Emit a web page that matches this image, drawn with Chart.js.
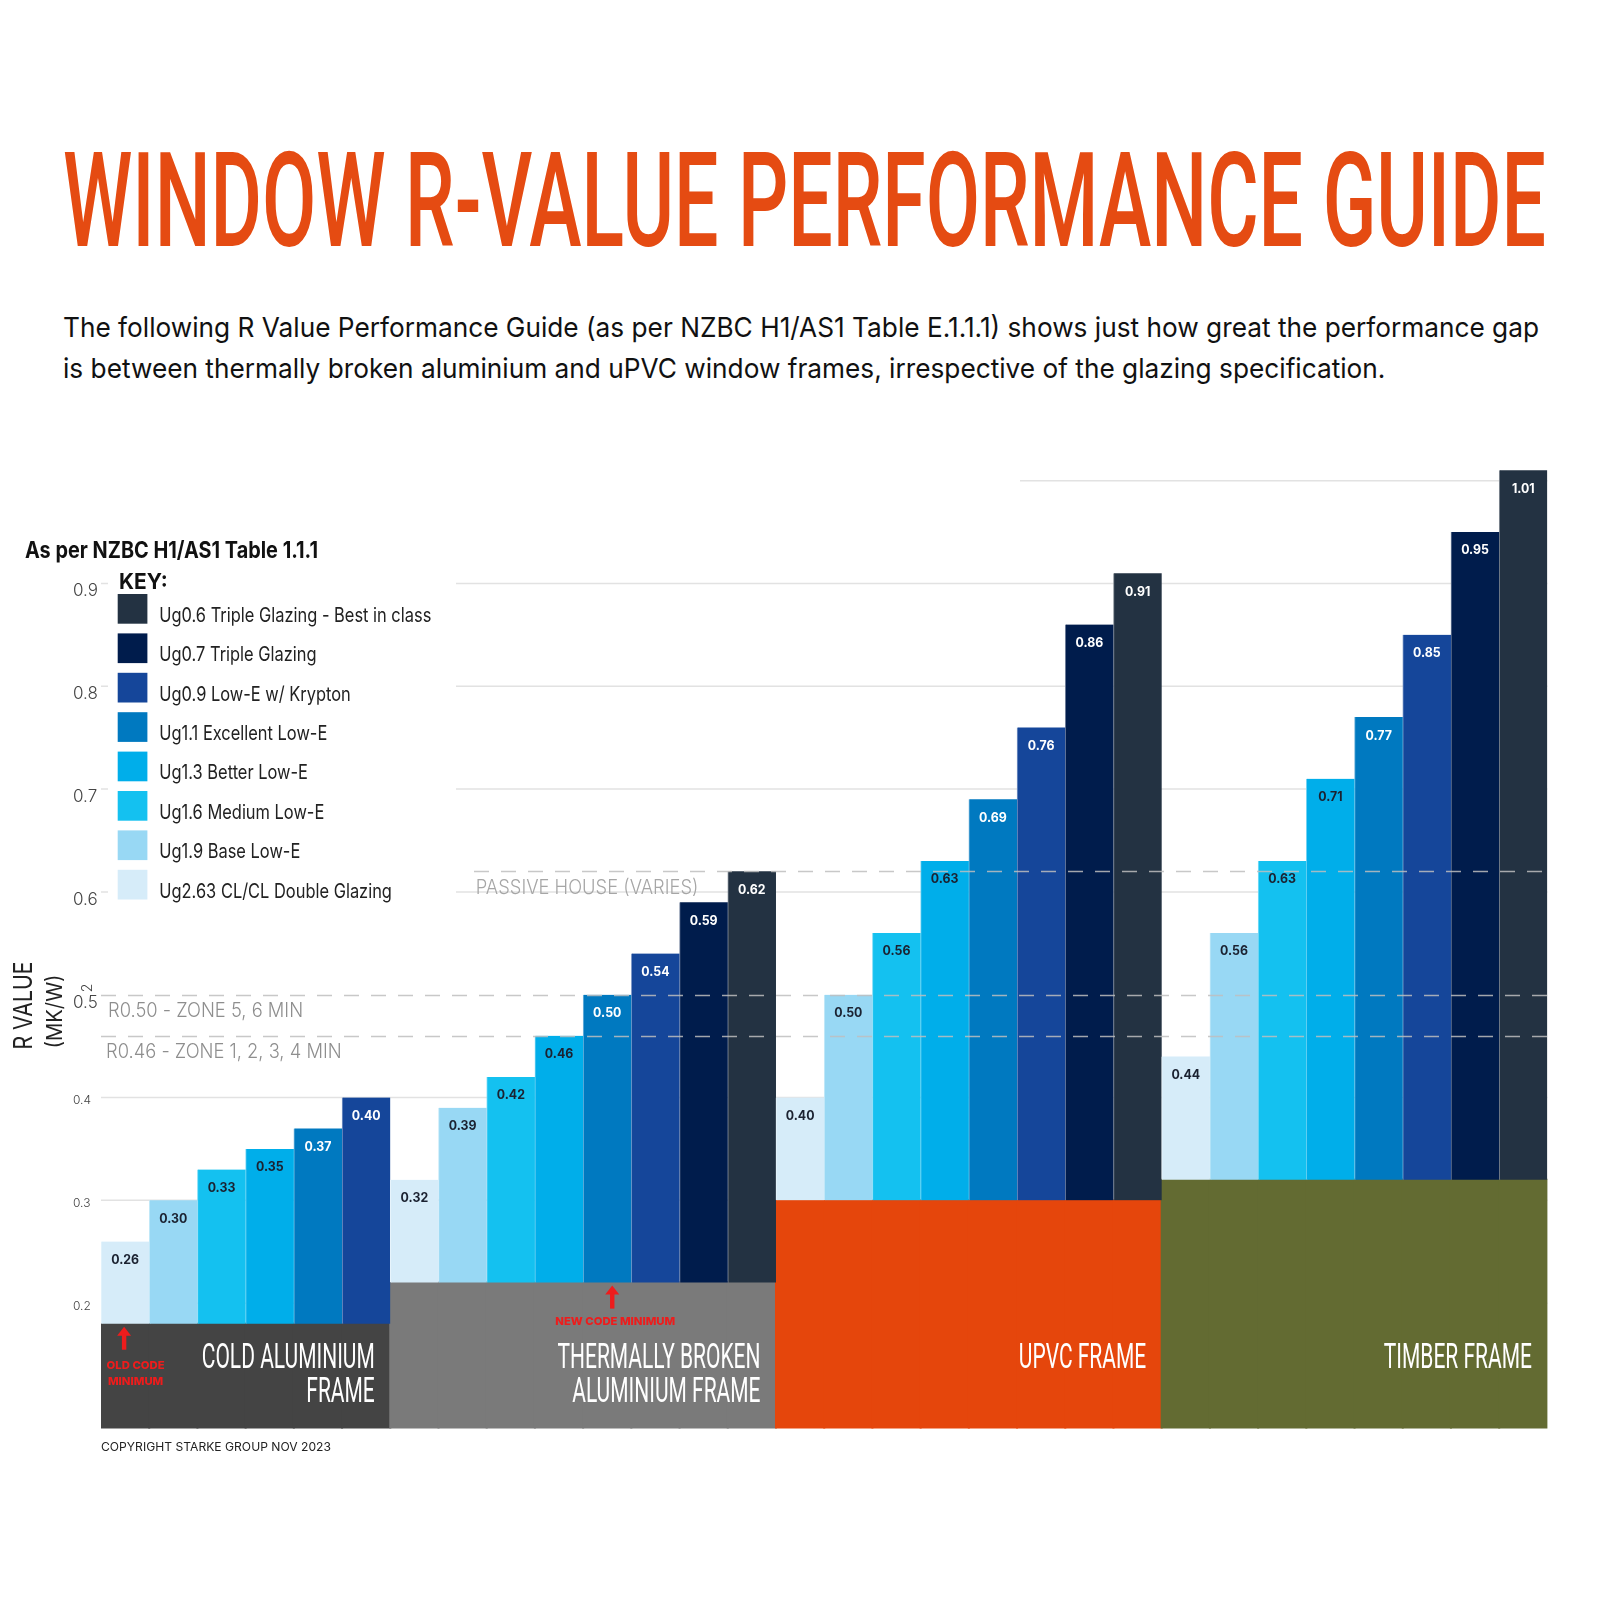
<!DOCTYPE html>
<html>
<head>
<meta charset="utf-8">
<script src="https://cdn.jsdelivr.net/npm/chart.js@4.4.0/dist/chart.umd.min.js"></script>
<style>
  html, body { margin: 0; padding: 0; background: #ffffff; }
  body { width: 1600px; height: 1600px; position: relative; overflow: hidden; }
  #chart { position: absolute; left: 0; top: 0; width: 1600px; height: 1600px; }
  .txt { position: absolute; white-space: nowrap; transform-origin: 0 0; display: inline-block; line-height: 1; }
  #title { font-family: Roboto, sans-serif; font-weight: 500; font-size: 131px; color: #e54b12; }
  .para { font-family: Inter, sans-serif; font-weight: 400; font-size: 27.5px; color: #111111; }
</style>
</head>
<body>
<div id="title" class="txt">WINDOW R-VALUE PERFORMANCE GUIDE</div>
<div id="p1" class="txt para">The following R Value Performance Guide (as per NZBC H1/AS1 Table E.1.1.1) shows just how great the performance gap</div>
<div id="p2" class="txt para">is between thermally broken aluminium and uPVC window frames, irrespective of the glazing specification.</div>
<canvas id="chart" width="1600" height="1600"></canvas>
<script>
// ---------------- DATA ----------------
const frameNames = ['COLD ALUMINIUM FRAME', 'THERMALLY BROKEN ALUMINIUM FRAME', 'UPVC FRAME', 'TIMBER FRAME'];
const frameLabelLines = [['COLD ALUMINIUM', 'FRAME'], ['THERMALLY BROKEN', 'ALUMINIUM FRAME'], ['UPVC FRAME'], ['TIMBER FRAME']];
const frameBase = [0.18, 0.22, 0.30, 0.32];
const glazingTypes = [
  'Ug2.63 CL/CL Double Glazing',
  'Ug1.9 Base Low-E',
  'Ug1.6 Medium Low-E',
  'Ug1.3 Better Low-E',
  'Ug1.1 Excellent Low-E',
  'Ug0.9 Low-E w/ Krypton',
  'Ug0.7 Triple Glazing',
  'Ug0.6 Triple Glazing - Best in class'
];
const coldAluminium   = [0.26, 0.30, 0.33, 0.35, 0.37, 0.40];
const thermallyBroken = [0.32, 0.39, 0.42, 0.46, 0.50, 0.54, 0.59, 0.62];
const upvcFrame       = [0.40, 0.50, 0.56, 0.63, 0.69, 0.76, 0.86, 0.91];
const timberFrame     = [0.44, 0.56, 0.63, 0.71, 0.77, 0.85, 0.95, 1.01];
const yTicks = [0.2, 0.3, 0.4, 0.5, 0.6, 0.7, 0.8, 0.9];
const refValues = [0.62, 0.50, 0.46];
const refLabels = ['PASSIVE HOUSE (VARIES)', 'R0.50 - ZONE 5, 6 MIN', 'R0.46 - ZONE 1, 2, 3, 4 MIN'];
const codeMinFrame = [0, 1];
const codeMinGlazing = [0, 4];
const codeMinLines = [['OLD CODE', 'MINIMUM'], ['NEW CODE MINIMUM']];

// ---------------- STYLE ----------------
const frameColors = ['#444444', '#7a7a7a', '#e5460c', '#636b32'];
const glazingColors = ['#d6ecf9', '#98d8f4', '#14c1f0', '#00aeea', '#0079c0', '#15469a', '#001c4c', '#233242'];
const Y_MIN = 0.078, Y_MAX = 1.03;

function lighten(hex, t) {
  const n = parseInt(hex.slice(1), 16);
  const r = (n >> 16) & 255, g = (n >> 8) & 255, b = n & 255;
  const m = c => Math.round(c + (255 - c) * t);
  return 'rgb(' + m(r) + ',' + m(g) + ',' + m(b) + ')';
}

function placeText(id, left, baseline, width, scaleOverride) {
  const el = document.getElementById(id);
  el.style.left = left + 'px';
  el.style.top = '0px';
  const mk = document.createElement('span');
  mk.style.cssText = 'display:inline-block;width:0;height:0;vertical-align:baseline;';
  el.appendChild(mk);
  const off = mk.getBoundingClientRect().top - el.getBoundingClientRect().top;
  el.style.top = (baseline - off) + 'px';
  const w = el.getBoundingClientRect().width;
  const s = scaleOverride || (width / w);
  el.style.transform = 'scaleX(' + s + ')';
  return s;
}

function fitScale(ctx, font, text, width) {
  ctx.font = font;
  return width / ctx.measureText(text).width;
}
function drawT(ctx, text, x, y, font, color, align, sx, baseline) {
  ctx.save();
  ctx.font = font;
  ctx.fillStyle = color;
  ctx.textAlign = align || 'left';
  ctx.textBaseline = baseline || 'alphabetic';
  ctx.translate(x, y);
  ctx.scale(sx || 1, 1);
  ctx.fillText(text, 0, 0);
  ctx.restore();
}

function init() {
  // HTML heading texts
  placeText('title', 63.3, 246, 1483);
  const ps = placeText('p1', 62.7, 336.7, 1476);
  placeText('p2', 62.7, 378.3, 0, ps);

  // Build slots (one category per bar)
  const frameSeries = [coldAluminium, thermallyBroken, upvcFrame, timberFrame];
  const labels = [], slotFrame = [], slotGlazing = [];
  frameSeries.forEach((arr, f) => arr.forEach((v, g) => {
    labels.push(frameNames[f] + ' | ' + glazingTypes[g]);
    slotFrame.push(f);
    slotGlazing.push(g);
  }));

  const datasets = [{
    label: 'Frame',
    data: slotFrame.map(f => [Y_MIN, frameBase[f]]),
    backgroundColor: slotFrame.map(f => frameColors[f]),
    borderWidth: 0,
    inflateAmount: 1,
    grouped: false,
    order: 2
  }];
  glazingTypes.forEach((name, g) => {
    datasets.push({
      label: name,
      data: labels.map((_, i) => slotGlazing[i] === g ? [frameBase[slotFrame[i]], frameSeries[slotFrame[i]][g]] : null),
      backgroundColor: glazingColors[g],
      borderColor: lighten(glazingColors[g], 0.45),
      borderWidth: { left: 1, top: 0, right: 0, bottom: 0 },
      borderSkipped: false,
      grouped: false,
      order: 1
    });
  });

  const labelsFrame = slotFrame;

  const decor = {
    id: 'decor',
    beforeDatasetsDraw(chart) {
      const ctx = chart.ctx, y = chart.scales.y, area = chart.chartArea;
      // solid grid lines
      ctx.save();
      ctx.strokeStyle = '#e2e2e2';
      ctx.lineWidth = 1.5;
      const gridVals = yTicks.filter(v => !refValues.includes(v)).concat([1.0]);
      gridVals.forEach(v => {
        const py = y.getPixelForValue(v);
        const x0 = v >= 1.0 ? 1020 : area.left;
        ctx.beginPath(); ctx.moveTo(x0, py); ctx.lineTo(area.right, py); ctx.stroke();
      });
      ctx.restore();
      // legend panel mask
      ctx.save();
      ctx.fillStyle = '#ffffff';
      ctx.fillRect(108, 562, 348, 343);
      ctx.restore();
    },
    afterDatasetsDraw(chart) {
      const ctx = chart.ctx, ys = chart.scales.y, area = chart.chartArea;
      // dashed reference lines
      const refStart = [474, area.left, area.left];
      ctx.save();
      ctx.strokeStyle = 'rgba(190,190,190,0.85)';
      ctx.lineWidth = 1.6;
      ctx.setLineDash([15, 12]);
      refValues.forEach((v, i) => {
        const py = Math.round(ys.getPixelForValue(v)) + 0.5;
        ctx.beginPath(); ctx.moveTo(refStart[i], py); ctx.lineTo(area.right, py); ctx.stroke();
      });
      ctx.restore();
      // reference labels
      const refFont = '300 20px Inter';
      const refS = fitScale(ctx, refFont, refLabels[0], 222.7);
      const refX = [475.7, 108, 106];
      refValues.forEach((v, i) => {
        drawT(ctx, refLabels[i], refX[i], ys.getPixelForValue(v) + 22.5, refFont, i === 0 ? '#a6a6a6' : '#8e8e8e', 'left', refS);
      });

      // value labels on bars
      for (let g = 0; g < glazingTypes.length; g++) {
        const meta = chart.getDatasetMeta(g + 1);
        const ds = chart.data.datasets[g + 1];
        meta.data.forEach((el, i) => {
          const d = ds.data[i];
          if (!d) return;
          drawT(ctx, d[1].toFixed(2), el.x, el.y + 18.5, '700 13px Inter', g < 4 ? '#1b2231' : '#ffffff', 'center', 0.95, 'middle');
        });
      }

      // frame labels
      const fFont = '400 34.5px Roboto';
      const fS = fitScale(ctx, fFont, frameLabelLines[0][0], 173);
      const frameMeta = chart.getDatasetMeta(0);
      frameNames.forEach((_, f) => {
        let lastIdx = -1;
        frameMeta.data.forEach((el, i) => { if (labelsFrame[i] === f) lastIdx = i; });
        const el = frameMeta.data[lastIdx];
        const right = el.x + el.width / 2 - 15.5;
        frameLabelLines[f].forEach((line, k) => {
          drawT(ctx, line, right, 1367.5 + k * 34, fFont, '#ffffff', 'right', fS);
        });
      });

      // code minimum arrows
      const rFont = '800 11px Inter';
      const rS = fitScale(ctx, rFont, 'NEW CODE MINIMUM', 120);
      const arrowDx = [-1, 5];
      const textDx = [10.5, 8];
      const textDy = [45.4, 42.5];
      codeMinFrame.forEach((f, j) => {
        const glz = codeMinGlazing[j];
        const meta = chart.getDatasetMeta(glz + 1);
        let idx = -1;
        chart.data.datasets[glz + 1].data.forEach((d, i) => { if (d && labelsFrame[i] === f) idx = i; });
        const el = meta.data[idx];
        const ax = el.x + arrowDx[j];
        const top = ys.getPixelForValue(frameBase[f]) + 3;
        ctx.save();
        ctx.fillStyle = '#ee1c1c';
        ctx.beginPath();
        ctx.moveTo(ax, top); ctx.lineTo(ax + 7, top + 9); ctx.lineTo(ax - 7, top + 9); ctx.closePath(); ctx.fill();
        ctx.fillRect(ax - 2.2, top + 8, 4.4, 15);
        ctx.restore();
        codeMinLines[j].forEach((line, k) => {
          drawT(ctx, line, el.x + textDx[j], top + textDy[j] - 3 + k * 16, rFont, '#ee1c1c', 'center', rS);
        });
      });
    },
    afterDraw(chart) {
      const ctx = chart.ctx, ys = chart.scales.y;
      // y tick labels
      yTicks.forEach(v => {
        const py = ys.getPixelForValue(v);
        if (v >= 0.5) drawT(ctx, v.toFixed(1), 73, py + 13, '300 17px Inter', '#444444', 'left', 1);
        else drawT(ctx, v.toFixed(1), 73, py + 3, '300 12px Inter', '#444444', 'left', 1, 'middle');
      });
      // superscript 2 (rotated)
      ctx.save();
      ctx.translate(88, 988); ctx.rotate(-Math.PI / 2);
      ctx.font = '300 14px Inter'; ctx.fillStyle = '#444444'; ctx.textAlign = 'center'; ctx.textBaseline = 'middle';
      ctx.fillText('2', 0, 0);
      ctx.restore();
      // y axis title
      const t1 = '400 26px Inter', t2 = '400 22px Inter';
      const s1 = fitScale(ctx, t1, 'R VALUE', 88), s2 = fitScale(ctx, t2, '(MK/W)', 74);
      ctx.save(); ctx.translate(24, 1049.5); ctx.rotate(-Math.PI / 2);
      drawT(ctx, 'R VALUE', 0, 0, t1, '#222222', 'left', s1, 'middle'); ctx.restore();
      ctx.save(); ctx.translate(55.5, 1048.5); ctx.rotate(-Math.PI / 2);
      drawT(ctx, '(MK/W)', 0, 0, t2, '#222222', 'left', s2, 'middle'); ctx.restore();

      // heading + key
      const hFont = '700 23px Inter';
      drawT(ctx, 'As per NZBC H1/AS1 Table 1.1.1', 25, 558.3, hFont, '#111111', 'left', fitScale(ctx, hFont, 'As per NZBC H1/AS1 Table 1.1.1', 293));
      drawT(ctx, 'KEY:', 119, 589, '700 22px Inter', '#111111', 'left', fitScale(ctx, '700 22px Inter', 'KEY:', 48.7));
      const lFont = '400 20px Inter';
      const lS = fitScale(ctx, lFont, glazingTypes[7], 272);
      for (let i = 0; i < glazingTypes.length; i++) {
        const g = glazingTypes.length - 1 - i;
        const top = 594 + i * 39.4;
        ctx.fillStyle = glazingColors[g];
        ctx.fillRect(117.7, top, 29.7, 29.7);
        drawT(ctx, glazingTypes[g], 159.3, top + 27.7, lFont, '#222222', 'left', lS);
      }

      // copyright
      const cFont = '400 12px Inter';
      drawT(ctx, 'COPYRIGHT STARKE GROUP NOV 2023', 101, 1450.8, cFont, '#222222', 'left', fitScale(ctx, cFont, 'COPYRIGHT STARKE GROUP NOV 2023', 230));
    }
  };

  new Chart(document.getElementById('chart'), {
    type: 'bar',
    data: { labels: labels, datasets: datasets },
    options: {
      responsive: false,
      animation: false,
      devicePixelRatio: 1,
      layout: { padding: { left: 101, right: 52.6, top: 449.8, bottom: 171.4 } },
      plugins: { legend: { display: false }, tooltip: { enabled: false } },
      datasets: { bar: { barPercentage: 1, categoryPercentage: 1 } },
      scales: {
        x: { display: false, grid: { display: false } },
        y: { display: false, min: Y_MIN, max: Y_MAX, grid: { display: false } }
      }
    },
    plugins: [decor]
  });
}

Promise.all([
  document.fonts.load('500 131px Roboto'),
  document.fonts.load('400 34px Roboto'),
  document.fonts.load('400 27px Inter'),
  document.fonts.load('700 23px Inter'),
  document.fonts.load('300 20px Inter'),
  document.fonts.load('800 11px Inter')
]).then(init, init);
</script>
</body>
</html>
